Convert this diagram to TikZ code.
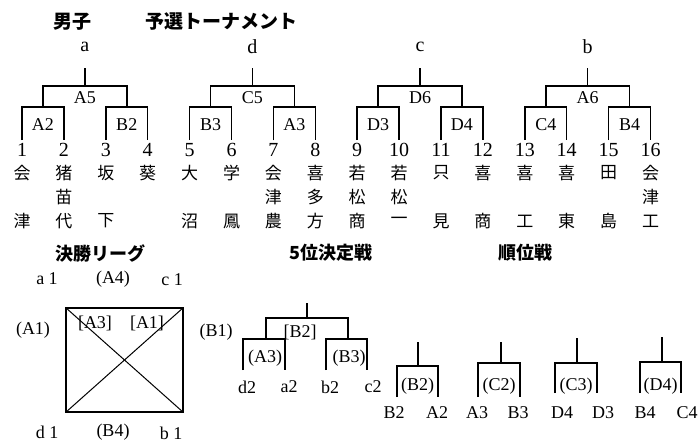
\documentclass[tikz,border=0pt]{standalone}
\usepackage{fontspec}
\setmainfont{Liberation Serif}
\newfontfamily\jp{Noto Sans CJK JP}
\usetikzlibrary{positioning}
\tikzset{x=1pt,y=-1pt,
  tie/.style={line width=1.5pt},
  num/.style={inner sep=0pt,font=\fontsize{20}{20}\selectfont},
  lab/.style={inner sep=0pt,font=\fontsize{18}{18}\selectfont},
  kan/.style={inner sep=0pt,font=\jp\fontsize{17}{17}\selectfont},
  head/.style={inner sep=0pt,font=\jp\bfseries\fontsize{19}{19}\selectfont}}

\begin{document}
\begin{tikzpicture}
\useasboundingbox (0,0) rectangle (700,446);
% titles
\node[head] (men) at (72,22) {男子};
\node[head] (prelim) at (221,22) {予選トーナメント};

% entries and school names
\foreach \i in {1,...,16}
  \node[num] (n\i) at ({22+41.9*(\i-1)},150) {\i};
\foreach \k [count=\i] in {会,猪,坂,葵,大,学,会,喜,若,若,只,喜,喜,喜,田,会}
  \node[kan] (p\i) at (n\i |- 0,173) {\k};
\foreach \i/\k in {2/苗,7/津,8/多,9/松,10/松,16/津}
  \node[kan] (q\i) at (n\i |- 0,197) {\k};
\foreach \i/\k in {1/津,2/代,3/下,5/沼,6/鳳,7/農,8/方,9/商,10/一,11/見,12/商,13/工,14/東,15/島,16/工}
  \node[kan] (r\i) at (n\i |- 0,221) {\k};

% preliminary brackets
\foreach \g/\hd/\win/\lwin/\rwin in {0/a/A5/A2/B2,1/d/C5/B3/A3,2/c/D6/D3/D4,3/b/A6/C4/B4}{
  \pgfmathtruncatemacro\ia{4*\g+1}
  \pgfmathtruncatemacro\ib{4*\g+2}
  \pgfmathtruncatemacro\ic{4*\g+3}
  \pgfmathtruncatemacro\id{4*\g+4}
  \pgfmathsetmacro\xl{22+41.9*(4*\g+0.5)}
  \pgfmathsetmacro\xr{22+41.9*(4*\g+2.5)}
  \pgfmathsetmacro\xm{22+41.9*(4*\g+1.5)}
  \draw[tie,shorten <=3pt,shorten >=3pt] (n\ia.north) |- (n\ib.north |- 0,107) -- (n\ib.north);
  \draw[tie,shorten <=3pt,shorten >=3pt] (n\ic.north) |- (n\id.north |- 0,107) -- (n\id.north);
  \draw[tie] (\xl,107) |- (\xr,86) -- (\xr,107);
  \draw[tie] (\xm,86) -- (\xm,68);
  \node[num] (h\g) at (\xm,47) {\hd};
  \node[lab] (w\g) at (\xm,98) {\win};
  \node[lab] (wl\g) at (\xl,125) {\lwin};
  \node[lab] (wr\g) at (\xr,125) {\rwin};
}

% section titles
\node[head,font=\jp\bfseries\fontsize{18}{18}\selectfont] (final) at (100,253) {決勝リーグ};
\node[head,font=\jp\bfseries\fontsize{18}{18}\selectfont] (fifth) at (331,253) {5位決定戦};
\node[head,font=\jp\bfseries\fontsize{18}{18}\selectfont] (rank) at (525,253) {順位戦};

% final league
\node[draw,line width=1.2pt,minimum width=117pt,minimum height=104pt,inner sep=0pt] (sq) at (124.5,360) {};
\draw[line width=1pt] (sq.north west) -- (sq.south east);
\draw[line width=1pt] (sq.north east) -- (sq.south west);
\node[lab] (a1) at (47,279) {a 1};
\node[lab] (g1) at (113,279) {(A4)};
\node[lab] (c1) at (172,280) {c 1};
\node[lab] (g2) at (33,330) {(A1)};
\node[lab] (g3) at (95,323) {[A3]};
\node[lab] (g4) at (147,323) {[A1]};
\node[lab] (g5) at (216,332) {(B1)};
\node[lab] (d1) at (47,432) {d 1};
\node[lab] (g6) at (113,432) {(B4)};
\node[lab] (b1) at (171,433) {b 1};

% 5th place
\node[lab] (d2) at (247,387) {d2};
\node[lab] (a2) at (289,387) {a2};
\node[lab] (b2) at (330,387) {b2};
\node[lab] (c2) at (373,387) {c2};
\draw[tie] (243,370) |- (285,339) -- (285,370);
\draw[tie] (326,370) |- (367,339) -- (367,370);
\draw[tie] (266,339) |- (348,318) -- (348,339);
\draw[tie] (307,318) -- (307,303);
\node[lab] (f1) at (300,332) {[B2]};
\node[lab] (f2) at (265,358) {(A3)};
\node[lab] (f3) at (349,358) {(B3)};

% placing matches
\foreach \k/\xa/\xb/\xs/\ys/\yh/\yb/\la/\lb/\pa/\pb/\win in {
  1/397/438/418/342/366/397/394/437/B2/A2/(B2),
  2/478/520/501/342/363/397/477/518/A3/B3/(C2),
  3/555/597/577/338/363/393/562/603/D4/D3/(C3),
  4/640/681/662/337/362/393/645/687/B4/C4/(D4)}{
  \draw[tie] (\xa,\yb) |- (\xb,\yh) -- (\xb,\yb);
  \draw[tie] (\xs,\yh) -- (\xs,\ys);
  \node[lab] (m\k) at ({(\xa+\xb)/2},386) {\win};
  \node[lab] (ml\k) at (\la,413) {\pa};
  \node[lab] (mr\k) at (\lb,413) {\pb};
}
\end{tikzpicture}
\end{document}
